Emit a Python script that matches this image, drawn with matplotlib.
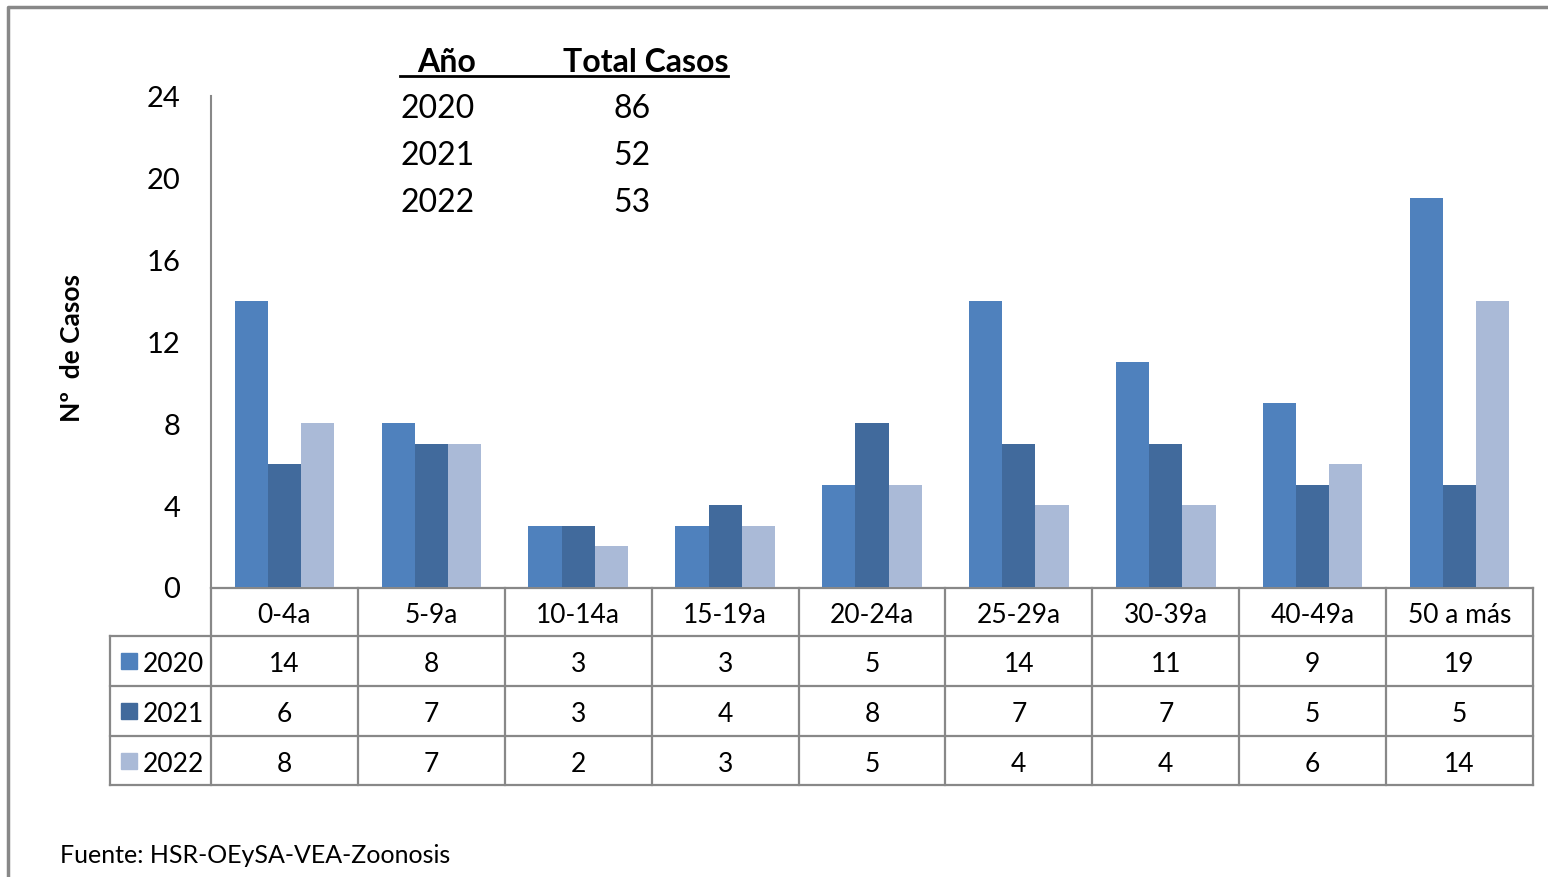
import matplotlib
matplotlib.use("Agg")
import matplotlib.pyplot as plt
from matplotlib import font_manager
from matplotlib.transforms import blended_transform_factory
from matplotlib.patches import Rectangle

categories = ["0-4a", "5-9a", "10-14a", "15-19a", "20-24a", "25-29a", "30-39a", "40-49a", "50 a más"]
years = ["2020", "2021", "2022"]
v2020 = [14, 8, 3, 3, 5, 14, 11, 9, 19]
v2021 = [6, 7, 3, 4, 8, 7, 7, 5, 5]
v2022 = [8, 7, 2, 3, 5, 4, 4, 6, 14]
series = [v2020, v2021, v2022]
totals_years = ["2020", "2021", "2022"]
totals = [86, 52, 53]
yticks = [0, 4, 8, 12, 16, 20, 24]
colors = ["#4F81BD", "#416A9C", "#AABAD7"]

avail = {f.name for f in font_manager.fontManager.ttflist}
fam = "Liberation Sans Narrow" if "Liberation Sans Narrow" in avail else "Lato"
plt.rcParams["font.family"] = [fam, "DejaVu Sans"]

W, H = 1548, 878
fig = plt.figure(figsize=(W / 100, H / 100), dpi=100)

# overlay in pixel coords
ov = fig.add_axes([0, 0, 1, 1])
ov.set_xlim(0, W)
ov.set_ylim(H, 0)
ov.axis("off")

x0, x1, ytop, ybot = 211, 1533, 97, 588
ax = fig.add_axes([x0 / W, (H - ybot) / H, (x1 - x0) / W, (ybot - ytop) / H])
ax.set_xlim(-0.5, len(categories) - 0.5)
ax.set_ylim(0, 24)
bw = 0.226
for k, vals in enumerate(series):
    ax.bar([i + (k - 1) * bw for i in range(len(categories))], vals, width=bw,
           color=colors[k], edgecolor="none", zorder=2)
for s in ["top", "right", "bottom"]:
    ax.spines[s].set_visible(False)
ax.spines["left"].set_color("#888888")
ax.spines["left"].set_linewidth(1.5)
ax.set_xticks([])
ax.set_yticks(yticks)
ax.set_yticklabels([str(t) for t in yticks], fontsize=21)
ax.tick_params(axis="y", length=0, pad=22)
for lab in ax.get_yticklabels():
    lab.set_va("center_baseline")
ax.patch.set_alpha(0)

ov.text(72, 348, "Nº  de Casos", rotation=90, ha="center", va="center",
        fontsize=19, fontweight="bold")

# table
tr = blended_transform_factory(ax.transData, ov.transData)
lc = "#888888"
lw = 1.6
row_edges = [589, 637, 687, 737, 786]
n = len(categories)
ov.plot([-0.5, n - 0.5], [589, 589], color=lc, lw=lw, transform=tr, clip_on=False)
for j in range(n + 1):
    ov.plot([j - 0.5, j - 0.5], [589, 786], color=lc, lw=lw, transform=tr, clip_on=False)
for y in row_edges[1:]:
    ov.plot([110, x1], [y, y], color=lc, lw=lw, clip_on=False)
ov.plot([110, 110], [637, 786], color=lc, lw=lw, clip_on=False)
for i, c in enumerate(categories):
    ov.text(i, 616, c, transform=tr, ha="center", va="center", fontsize=19)
for k, vals in enumerate(series):
    yc = (row_edges[k + 1] + row_edges[k + 2]) / 2
    ov.add_patch(Rectangle((121, yc - 8), 16, 16, color=colors[k]))
    ov.text(143, yc + 3, years[k], ha="left", va="center", fontsize=19)
    for i, v in enumerate(vals):
        ov.text(i, yc + 3, str(v), transform=tr, ha="center", va="center", fontsize=19)

# inset totals
ov.text(447, 62, "Año", ha="center", va="center", fontsize=23, fontweight="bold")
ov.text(646, 62, "Total Casos", ha="center", va="center", fontsize=23, fontweight="bold")
ov.plot([400, 728], [77, 77], color="black", lw=2)
for k, (yr, t) in enumerate(zip(totals_years, totals)):
    yy = 109 + 47 * k
    ov.text(400, yy, yr, ha="left", va="center", fontsize=23)
    ov.text(632, yy, str(t), ha="center", va="center", fontsize=23)

# source
ov.text(60, 856, "Fuente: HSR-OEySA-VEA-Zoonosis", ha="left", va="center", fontsize=18)

# frame
ov.plot([8, 8, W], [H, 8, 8], color="#888888", lw=2.5, clip_on=False)

fig.savefig("out.png", dpi=100)
